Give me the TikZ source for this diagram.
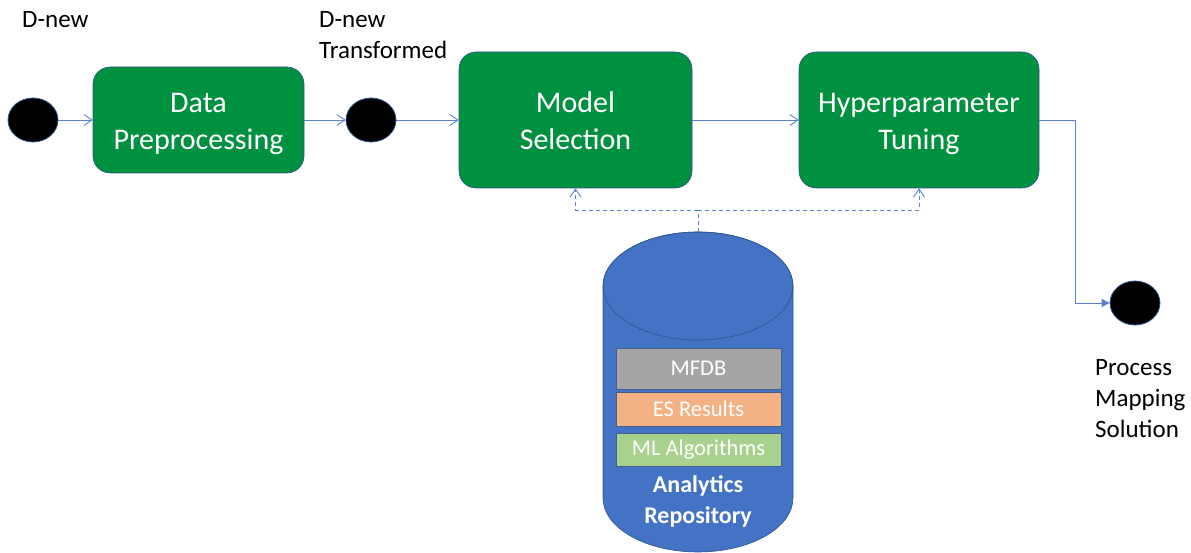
\documentclass[tikz,border=0pt]{standalone}
\usepackage{fontspec}
\setmainfont{Carlito}
\usetikzlibrary{arrows.meta,shapes.geometric}
\definecolor{stepgreen}{RGB}{0,145,64}
\definecolor{edgeblue}{RGB}{47,82,143}
\definecolor{linkblue}{RGB}{91,130,210}
\definecolor{repoblue}{RGB}{68,114,196}
\definecolor{mfdbgray}{RGB}{165,165,165}
\definecolor{esorange}{RGB}{244,177,131}
\definecolor{mlgreen}{RGB}{169,209,142}
\tikzset{
  stepbox/.style={draw=edgeblue, line width=0.6pt, fill=stepgreen, rounded corners=17pt, inner sep=0pt},
  steptext/.style={text=white, align=center, inner sep=0pt, font=\fontsize{30}{36.5}\selectfont},
  dot/.style={draw=edgeblue, line width=0.8pt, fill=black, ellipse, inner sep=0pt,
    minimum width=50pt, minimum height=44pt},
  caption/.style={align=left, anchor=north west, inner sep=0pt,
    font=\fontsize{25}{31}\selectfont},
  flow/.style={draw=linkblue, line width=0.9pt, -{Straight Barb[length=8pt,width=11pt,line width=0.9pt]}},
  feed/.style={flow, dashed, dash pattern=on 4pt off 3pt},
  layer/.style={draw=edgeblue!70!gray, line width=0.6pt, minimum width=165pt, inner sep=0pt,
    text=white, font=\fontsize{22.5}{27}\selectfont},
}
\begin{document}
\begin{tikzpicture}[x=1pt, y=-1pt]
\useasboundingbox (0,0) rectangle (1191,553);

% pipeline boxes and states
\node[dot] (start) at (33,120) {};
\node[stepbox, minimum width=211pt, minimum height=106pt] (prep) at (198.5,120) {};
\node[dot] (mid) at (371,120) {};
\node[stepbox, minimum width=233pt, minimum height=136pt] (ms) at (575.5,120) {};
\node[stepbox, minimum width=240pt, minimum height=136pt] (hp) at (919,120) {};
\node[dot] (finish) at (1135,303) {};

\node[steptext] (prepT) at ([yshift=-3.5pt]prep.center) {Data\strut\\Preprocessing\strut};
\node[steptext] (msT) at ([yshift=-3.5pt]ms.center) {Model\strut\\Selection\strut};
\node[steptext] (hpT) at ([yshift=-3.5pt]hp.center) {Hyperparameter\strut\\Tuning\strut};

\node[caption] (l1) at (22,11) {D-new};
\node[caption] (l2) at (319,11) {D-new\\Transformed};
\node[caption] (l3) at (1095,359) {Process\\Mapping\\Solution};

\draw[flow] (start) -- (prep);
\draw[flow] (prep) -- (mid);
\draw[flow] (mid) -- (ms);
\draw[flow] (ms) -- (hp);
\draw[draw=linkblue, line width=0.9pt, -{Triangle[length=8pt,width=8pt]}]
  (hp.east) -- ++(36,0) |- (finish.west);

% repository cylinder
\fill[repoblue, draw=edgeblue, line width=0.6pt]
  (603,286) -- (603,498)
  arc[start angle=180, end angle=360, x radius=95pt, y radius=54pt]
  -- (793,286)
  arc[start angle=0, end angle=180, x radius=95pt, y radius=54pt] -- cycle;
\draw[draw=edgeblue, line width=0.6pt] (698,286) ellipse [x radius=95pt, y radius=54pt];
\coordinate (repoTop) at (698,232);

\node[layer, fill=mfdbgray, minimum height=41pt] (mfdb) at (698.5,368.5) {MFDB};
\node[layer, fill=esorange, minimum height=34pt] (es) at (698.5,409) {ES Results};
\node[layer, fill=mlgreen, minimum height=33pt] (ml) at (698.5,449.5) {ML Algorithms};
\node[text=white, align=center, font=\bfseries\fontsize{24}{31}\selectfont, inner sep=0pt]
  (repo) at (698,501) {Analytics\\Repository};

% repository feeds
\draw[draw=linkblue, line width=0.9pt, dashed, dash pattern=on 4pt off 3pt]
  (repoTop) -- (698,210) coordinate (split);
\draw[feed] (split) -| (ms.south);
\draw[feed] (split) -| (hp.south);
\end{tikzpicture}
\end{document}
